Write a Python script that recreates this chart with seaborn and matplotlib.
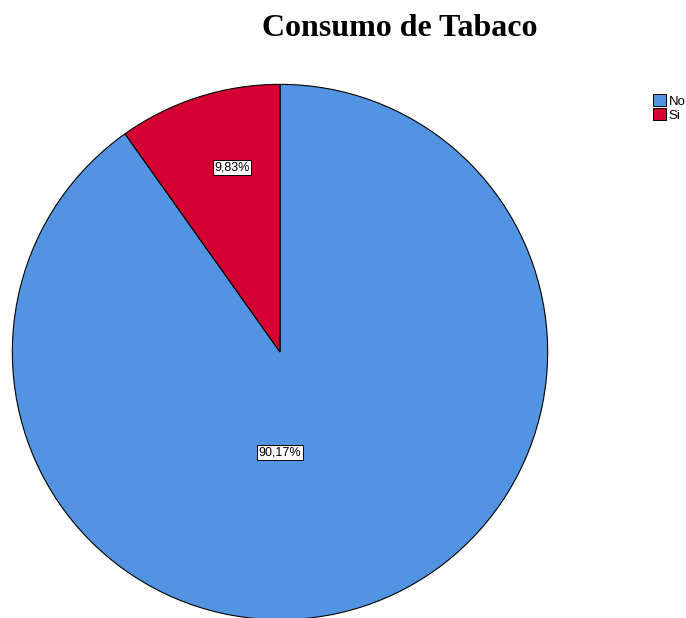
import matplotlib
matplotlib.use('Agg')
from matplotlib import pyplot as plt
import matplotlib.patches as mpatches
import seaborn as sns

sns.set_theme(style='white')
plt.rcParams['font.family'] = ['Liberation Sans', 'DejaVu Sans']
plt.rcParams['text.color'] = 'black'

categories = ['No', 'Si']
percent = [90.17, 9.83]
colors = ['#5294E2', '#D50032']
pct_labels = ['90,17%', '9,83%']

fig = plt.figure(figsize=(6.86, 6.18), dpi=100)
ax = fig.add_axes([11 / 686, -3 / 618, 538 / 686, 538 / 618])

wedges, texts = ax.pie(
    percent,
    colors=sns.color_palette(colors),
    startangle=90,
    counterclock=False,
    wedgeprops=dict(edgecolor='black', linewidth=0.8),
)
ax.set_xlim(-1.005, 1.005)
ax.set_ylim(-1.005, 1.005)
ax.set_aspect('auto')

# SPSS-style label placement
label_pos = [(0.0, -0.375), (-0.18, 0.69)]
for (x, y), lab in zip(label_pos, pct_labels):
    ax.text(x, y, lab, ha='center', va='center', fontsize=9, color='black',
            bbox=dict(boxstyle='square,pad=0.12', facecolor='white',
                      edgecolor='black', linewidth=0.7))

fig.text(400 / 686, 1 - 29 / 618, 'Consumo de Tabaco', ha='center', va='center',
         fontsize=23, fontweight='bold', family='Liberation Serif', color='black')

handles = [mpatches.Patch(facecolor=c, edgecolor='black', linewidth=0.7, label=l)
           for c, l in zip(colors, categories)]
fig.legend(handles=handles, loc='upper left', bbox_to_anchor=(644 / 686, 1 - 85 / 618),
           frameon=False, fontsize=9.5, handlelength=1.0, handleheight=1.0,
           handletextpad=0.15, labelspacing=0.05, borderpad=0.2)

fig.savefig('out.png', dpi=100)
